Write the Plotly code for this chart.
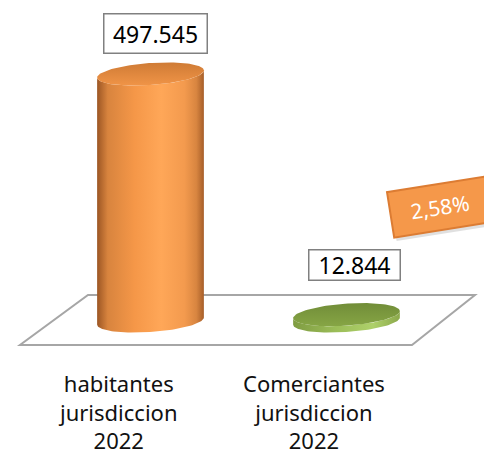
import numpy as np
import plotly.graph_objects as go

# ---------------- data ----------------
categories = ["habitantes<br>jurisdiccion<br>2022", "Comerciantes<br>jurisdiccion<br>2022"]
values = [497545, 12844]

value_labels = [f"{v:,}".replace(",", ".") for v in values]
share_label = f"{values[1] / values[0] * 100:.2f}".replace(".", ",") + "%"

# ---------------- geometry / style ----------------
W, H = 484, 455
PX_PER_X = 196.0              # pixels per category step
X0_PX = 150.5                 # pixel x of first category
ZERO_PX = 321.0               # pixel y of value 0
TOP_PX = 74.0                 # pixel y of the largest value
K = values[0] / (ZERO_PX - TOP_PX)   # value units per pixel

A_PX, B_PX, TILT = 53.5, 11.0, np.deg2rad(4.0)

x_range = [-X0_PX / PX_PER_X, (W - X0_PX) / PX_PER_X]
y_range = [-(H - ZERO_PX) * K, ZERO_PX * K]

side_scales = [
    [[0, "#9C5624"], [0.1, "#D8843E"], [0.35, "#F59748"], [0.6, "#FFA758"],
     [0.82, "#F39A4E"], [0.93, "#D88540"], [1, "#A65E29"]],
    [[0, "#7F9C42"], [0.4, "#9BBD58"], [0.75, "#AED06A"], [1, "#8BA84B"]],
]
top_scales = [
    [[0, "#F09447"], [1, "#CF7B35"]],
    [[0, "#86A545"], [1, "#718D38"]],
]
label_shift = [(4.5, 41), (8, 50)]
label_box = [(102, 38), (90, 29)]


def ellipse(cx, cy, t):
    X = A_PX * np.cos(t) * np.cos(TILT) - B_PX * np.sin(t) * np.sin(TILT)
    Y = A_PX * np.cos(t) * np.sin(TILT) + B_PX * np.sin(t) * np.cos(TILT)
    return cx + X / PX_PER_X, cy + Y * K


def px2paper(x, y):
    return x / W, 1 - y / H


fig = go.Figure()

for i, v in enumerate(values):
    t_low = np.linspace(np.pi, 2 * np.pi, 60)
    bx, by = ellipse(i, 0, t_low)
    tx, ty = ellipse(i, v, t_low[::-1])
    xs = np.concatenate([bx, tx, bx[:1]])
    ys = np.concatenate([by, ty, by[:1]])
    fig.add_trace(go.Scatter(
        x=xs, y=ys, mode="lines", line=dict(width=0), fill="toself",
        fillgradient=dict(type="horizontal", colorscale=side_scales[i]),
        hoverinfo="skip", showlegend=False))
    t_all = np.linspace(0, 2 * np.pi, 120)
    ex, ey = ellipse(i, v, t_all)
    fig.add_trace(go.Scatter(
        x=ex, y=ey, mode="lines", line=dict(width=0), fill="toself",
        fillgradient=dict(type="vertical", colorscale=top_scales[i]),
        hoverinfo="skip", showlegend=False))

# floor
floor_px = [(88, 295), (475, 295), (412, 345), (20, 345)]
pts = [px2paper(x, y) for x, y in floor_px]
path = "M " + " L ".join(f"{x:.4f},{y:.4f}" for x, y in pts) + " Z"
fig.add_shape(type="path", path=path, xref="paper", yref="paper",
              line=dict(color="#A6A6A6", width=2), fillcolor="white", layer="below")

annotations = []
for i, (cat, lab) in enumerate(zip(categories, value_labels)):
    annotations.append(dict(
        x=i, y=values[i], xref="x", yref="y", text=lab, showarrow=False,
        xshift=label_shift[i][0], yshift=label_shift[i][1],
        xanchor="center", yanchor="middle",
        width=label_box[i][0], height=label_box[i][1], borderpad=0,
        bgcolor="white", bordercolor="#808080", borderwidth=1.5,
        font=dict(family="Noto Sans", size=23, color="#000000")))
    annotations.append(dict(
        x=i, y=1 - 366 / H, xref="x", yref="paper", text=cat, showarrow=False,
        xshift=-33, xanchor="center", yanchor="top", align="center",
        font=dict(family="Noto Sans", size=22, color="#111111")))

px_, py_ = px2paper(440, 207)
annotations.append(dict(
    x=px_, y=py_, xref="paper", yref="paper", text="", showarrow=False,
    xshift=2, yshift=-4, textangle=-9, width=98, height=44, borderpad=0,
    bgcolor="rgba(0,0,0,0.12)", xanchor="center", yanchor="middle"))
annotations.append(dict(
    x=px_, y=py_, xref="paper", yref="paper", text=share_label, showarrow=False,
    textangle=-9, width=98, height=44, borderpad=0,
    bgcolor="#F5984A", bordercolor="#DC7C33", borderwidth=2,
    xanchor="center", yanchor="middle",
    font=dict(family="Noto Sans", size=21, color="white")))

fig.update_layout(
    width=W, height=H, margin=dict(l=0, r=0, t=0, b=0),
    paper_bgcolor="white", plot_bgcolor="white", showlegend=False,
    xaxis=dict(range=x_range, visible=False, fixedrange=True),
    yaxis=dict(range=y_range, visible=False, fixedrange=True),
    annotations=annotations,
)

fig.write_html("out.html", config={"displayModeBar": False},
               post_script="document.body.style.margin='0';document.body.style.overflow='hidden';")
